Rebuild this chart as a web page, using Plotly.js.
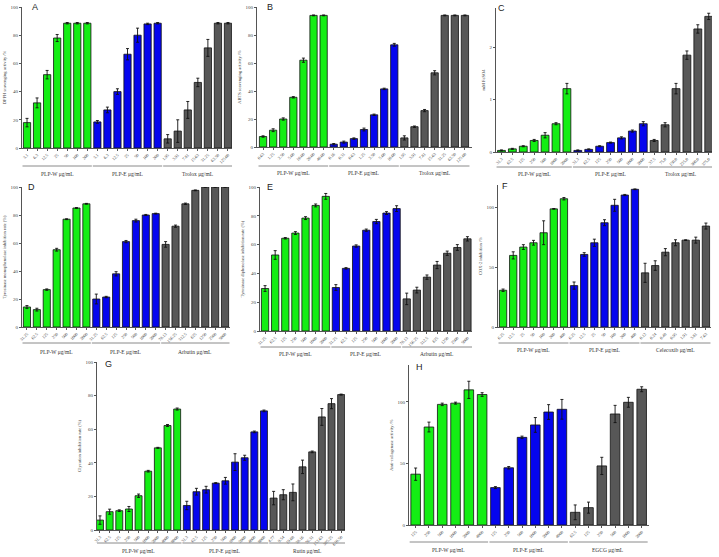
<!DOCTYPE html>
<html><head><meta charset="utf-8">
<script src="https://cdn.plot.ly/plotly-3.0.1.min.js"></script>
<style>html,body{margin:0;padding:0;background:#fff;}#chart{width:719px;height:557px;}</style>
</head><body><div id="chart"></div>
<script>
// ---------- DATA ----------
// Panel A (DPPH)
const aGroups=["PLP-W μg/mL","PLP-E μg/mL","Trolox μg/mL"];
const aLabW=["3.1","6.3","12.5","25","50","100","200"];
const aW=[18,32,52,78,88.5,88.5,88.5];
const aWerr=[3,3.5,3,2.5,0.5,0.5,0.5];
const aLabE=["3.1","6.3","12.5","25","50","100","200"];
const aE=[18.5,27,40,66.5,80,88,88.5];
const aEerr=[1,2,2,4,5,0.5,0.5];
const aLabT=["1.95","3.91","7.81","15.63","31.25","62.50","125.00"];
const aT=[6.5,12,27,46.5,71,88.5,88.5];
const aTerr=[3,8,6,3,6,0.5,0.5];
// Panel B (ABTS)
const bGroups=["PLP-W μg/mL","PLP-E μg/mL","Trolox μg/mL"];
const bLabW=["0.63","1.25","2.50","5.00","10.00","20.00","40.00"];
const bW=[7.5,12,20,35.5,62,94,94];
const bWerr=[0.5,1,0.8,0.5,1.5,0.3,0.3];
const bLabE=["0.16","0.31","0.63","1.25","2.50","5.00","10.00"];
const bE=[2,3.5,6,12.5,23,41.5,73];
const bEerr=[0.5,0.7,0.5,1,0.5,0.5,1];
const bLabT=["1.95","3.91","7.81","15.63","31.25","62.50","125.00"];
const bT=[6.5,14.5,26,53,94,94,94];
const bTerr=[1.5,0.5,0.8,1.5,0.3,0.3,0.3];
// Panel C (FRAP)
const cGroups=["PLP-W μg/mL","PLP-E μg/mL","Trolox μg/mL"];
const cLabW=["31.3","62.5","125","250","500","1000","2000"];
const cW=[0.03,0.06,0.11,0.22,0.32,0.54,1.21];
const cWerr=[0.01,0.01,0.01,0.02,0.05,0.02,0.1];
const cLabE=["31.3","62.5","125","250","500","1000","2000"];
const cE=[0.03,0.05,0.11,0.18,0.27,0.40,0.54];
const cEerr=[0.01,0.01,0.01,0.01,0.02,0.02,0.04];
const cLabT=["37.5","75.0","150.0","225.0","300.0","375.0"];
const cT=[0.22,0.52,1.21,1.85,2.35,2.59];
const cTerr=[0.02,0.04,0.1,0.08,0.08,0.06];
// Panel D (monophenolase)
const dGroups=["PLP-W μg/mL","PLP-E μg/mL","Arbutin μg/mL"];
const dLabW=["31.25","62.5","125","250","500","1000","2000"];
const dW=[14.3,12.4,26.7,55.2,77,85,88];
const dWerr=[1,1,0.5,1,0.3,0.3,0.3];
const dLabE=["31.25","62.5","125","250","500","1000","2000"];
const dE=[20,21.4,38,61,76,80,81];
const dEerr=[3.5,0.5,1.5,0.8,1,0.4,0.3];
const dLabA=["78.13","156.25","312.5","625","1250","2500","5000"];
const dA=[59,72,88,97.6,100,100,100];
const dAerr=[2,0.8,0.5,0.3,0.2,0.2,0.2];
// Panel E (diphenolase)
const eGroups=["PLP-W μg/mL","PLP-E μg/mL","Arbutin μg/mL"];
const eLabW=["31.25","62.5","125","250","500","1000","2000"];
const eW=[29.5,52.8,64.4,68,78.4,87.2,93.5];
const eWerr=[2,3,0.5,1,1,1,2];
const eLabE=["31.25","62.5","125","250","500","1000","2000"];
const eE=[30.2,43.5,59,70,76,81.9,85];
const eEerr=[2,0.5,0.8,0.8,1.5,1,2];
const eLabA=["78.13","156.25","312.5","625","1250","2500","5000"];
const eA=[22.3,28.4,37.4,45.8,54,58,64];
const eAerr=[4,2,1.5,2.5,1.5,2,1.5];
// Panel F (COX-2)
const fGroups=["PLP-W μg/mL","PLP-E μg/mL","Celecoxib μg/mL"];
const fLabW=["6.25","12.5","25","50","100","200","400"];
const fW=[30.8,60,67,70.6,79,99,107.5];
const fWerr=[1,3,2,2,10,0.3,1];
const fLabE=["6.25","12.5","25","50","100","200","400"];
const fE=[34.7,60.8,70.6,87.4,102,110.6,115.4];
const fEerr=[3,1.5,3,2.5,5,0.5,0.3];
const fLabC=["0.12","0.24","0.48","0.95","1.91","3.81","7.63"];
const fC=[45.4,51.5,62.7,70.6,72.8,72.8,84.6];
const fCerr=[8,4,3,2.5,0.3,2.5,2.5];
// Panel G (glycation)
const gGroups=["PLP-W μg/mL","PLP-E μg/mL","Rutin μg/mL"];
const gLabW=["31.3","62.5","125","250","500","1000","2000","4000","8000"];
const gW=[5.9,10.9,11.5,12.5,20.4,35,48.9,62.2,72];
const gWerr=[2.5,1.5,0.5,1.5,1,0.5,0.3,0.6,0.6];
const gLabE=["31.3","62.5","125","250","500","1000","2000","4000","8000"];
const gE=[14.6,22.8,24,27.9,29.3,40.4,43,58.4,70.9];
const gEerr=[2.5,2,2,0.3,2,5,1.5,0.5,0.5];
const gLabR=["4.77","9.54","19.08","38.16","76.31","152.63","305.25","610.50"];
const gR=[19,21,22.4,37.6,46.5,67.3,75.2,80.6];
const gRerr=[4,3,5,4,0.5,5,3,0.3];
// Panel H (collagenase)
const hGroups=["PLP-W μg/mL","PLP-E μg/mL","EGCG μg/mL"];
const hLabW=["125","250","500","1000","2000","4000"];
const hW=[41.3,79.6,98,99,109.8,106];
const hWerr=[5,4,1,0.8,7,1.5];
const hLabE=["125","250","500","1000","2000","4000"];
const hE=[30.4,46.5,71.2,81.3,91.8,94];
const hEerr=[0.8,1,1,6,6,8];
const hLabG=["62.5","125","250","500","1000","2000"];
const hG=[10.3,14.1,48,90.2,99.7,110.3];
const hGerr=[6,4.5,7,7,4,2];

// ---------- LAYOUT CONFIG ----------
const W=719,H=557;
const COLORS=['#14ee14','#0505ee','#575757'];
const SERIF='Liberation Serif, Times New Roman, serif';
const panels=[
 {letter:'A',groups:[[aLabW,aW,aWerr],[aLabE,aE,aEerr],[aLabT,aT,aTerr]],names:aGroups,ytitle:'DPPH scavenging activity /%',
  L:22,R:232,xr:[-0.5,20.4],yb:148,yt:7,ytv:100,ticks:[0,20,40,60,80,100],lineY:166,labY:174,letX:30,letY:7},
 {letter:'B',groups:[[bLabW,bW,bWerr],[bLabE,bE,bEerr],[bLabT,bT,bTerr]],names:bGroups,ytitle:'ABTS scavenging activity /%',
  L:257,R:472,xr:[-0.6,20.7],yb:147,yt:7,ytv:100,ticks:[0,20,40,60,80,100],lineY:166,labY:173,letX:265,letY:7},
 {letter:'C',groups:[[cLabW,cW,cWerr],[cLabE,cE,cEerr],[cLabT,cT,cTerr]],names:cGroups,ytitle:'mM FeSO4',
  L:496,R:712,xr:[-0.5,19.3],yb:152,yt:8,ytv:2.75,ticks:[0,1,2],lineY:167,labY:174,letX:496,letY:8},
 {letter:'D',groups:[[dLabW,dW,dWerr],[dLabE,dE,dEerr],[dLabA,dA,dAerr]],names:dGroups,ytitle:'Tyrosinase monophenolase inhibition rate (%)',
  L:22,R:230,xr:[-0.5,20.5],yb:327,yt:187,ytv:100,ticks:[0,20,40,60,80,100],lineY:343,labY:352,letX:26,letY:187},
 {letter:'E',groups:[[eLabW,eW,eWerr],[eLabE,eE,eEerr],[eLabA,eA,eAerr]],names:eGroups,ytitle:'Tyrosinase diphenolase inhibition rate (%)',
  L:260,R:472,xr:[-0.5,20.45],yb:331,yt:187,ytv:100,ticks:[0,20,40,60,80,100],lineY:347,labY:354,letX:265,letY:187},
 {letter:'F',groups:[[fLabW,fW,fWerr],[fLabE,fE,fEerr],[fLabC,fC,fCerr]],names:fGroups,ytitle:'COX-2 inhibition /%',
  L:498,R:711,xr:[-0.5,20.5],yb:327,yt:185,ytv:119,ticks:[0,50,100],lineY:343,labY:350,letX:500,letY:186},
 {letter:'G',groups:[[gLabW,gW,gWerr],[gLabE,gE,gEerr],[gLabR,gR,gRerr]],names:gGroups,ytitle:'Glycation inhibition rate (%)',
  L:97,R:345,xr:[-0.31,25.4],yb:530,yt:362,ytv:100,ticks:[0,20,40,60,80,100],lineY:543,labY:551,letX:103,letY:364},
 {letter:'H',groups:[[hLabW,hW,hWerr],[hLabE,hE,hEerr],[hLabG,hG,hGerr]],names:hGroups,ytitle:'Anti-collagenase activity /%',
  L:409,R:649,xr:[-0.5,17.55],yb:525,yt:365,ytv:130,ticks:[0,50,100],lineY:542,labY:550,letX:414,letY:367}
];

const traces=[];const shapes=[];const annotations=[];
const layout={width:W,height:H,margin:{l:0,r:0,t:0,b:0},paper_bgcolor:'#fff',plot_bgcolor:'rgba(0,0,0,0)',
  showlegend:false,barmode:'overlay',font:{family:SERIF,color:'#333'}};

panels.forEach((p,idx)=>{
  const k=idx+1;const xa='x'+(k===1?'':k), ya='y'+(k===1?'':k);
  const tickvals=[],ticktext=[];let off=0;
  p.groups.forEach((g,gi)=>{
    const [labs,vals,errs]=g;
    const xs=vals.map((v,i)=>off+i);
    labs.forEach((l,i)=>{tickvals.push(off+i);ticktext.push(l);});
    traces.push({type:'bar',x:xs,y:vals,xaxis:xa,yaxis:ya,width:0.72,
      marker:{color:COLORS[gi],line:{color:'#111',width:0.8}},
      error_y:{type:'data',array:errs,visible:true,color:'#111',thickness:0.9,width:1.5},hoverinfo:'skip'});
    shapes.push({type:'line',xref:xa,yref:'paper',x0:off-0.45,x1:off+vals.length-1+0.45,
      y0:1-p.lineY/H,y1:1-p.lineY/H,line:{color:'#8a8a8a',width:1}});
    annotations.push({xref:xa,yref:'paper',x:off+(vals.length-1)/2,y:1-p.labY/H,text:p.names[gi],showarrow:false,
      font:{family:SERIF,size:5.5,color:'#333'},xanchor:'center',yanchor:'middle'});
    off+=vals.length;
  });
  layout['xaxis'+(k===1?'':k)]={domain:[p.L/W,p.R/W],range:p.xr,anchor:ya,tickmode:'array',tickvals:tickvals,ticktext:ticktext,
    tickangle:-45,tickfont:{family:SERIF,size:4.3,color:'#444'},showline:true,linecolor:'#555',linewidth:1,
    ticks:'outside',ticklen:2,tickcolor:'#555',showgrid:false,zeroline:false,fixedrange:true};
  layout['yaxis'+(k===1?'':k)]={domain:[1-p.yb/H,1-p.yt/H],range:[0,p.ytv],anchor:xa,tickmode:'array',tickvals:p.ticks,
    tickfont:{family:SERIF,size:5,color:'#444'},showline:true,linecolor:'#555',linewidth:1,ticks:'outside',ticklen:2,tickcolor:'#555',
    showgrid:false,zeroline:false,fixedrange:true,title:{text:p.ytitle,font:{family:SERIF,size:4.5,color:'#444'},standoff:3}};
  annotations.push({xref:'paper',yref:'paper',x:p.letX/W,y:1-p.letY/H,text:p.letter,showarrow:false,
    font:{family:'Liberation Sans, Arial, sans-serif',size:9,color:'#222'},xanchor:'left',yanchor:'middle'});
});
layout.shapes=shapes;layout.annotations=annotations;
Plotly.newPlot('chart',traces,layout,{staticPlot:true,displayModeBar:false});
</script></body></html>
